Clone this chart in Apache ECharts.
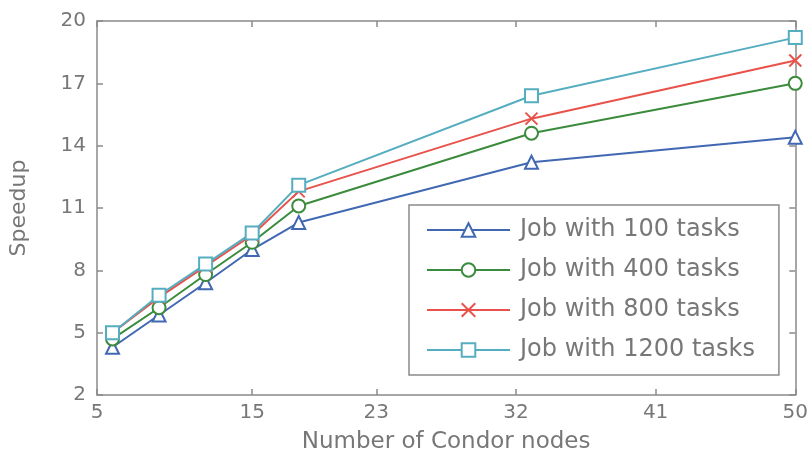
<!DOCTYPE html>
<html>
<head>
<meta charset="utf-8">
<script src="https://cdn.jsdelivr.net/npm/echarts@6/dist/echarts.min.js"></script>
<style>html,body{margin:0;padding:0;background:#fff}#c{width:811px;height:461px}</style>
</head>
<body>
<div id="c"></div>
<script>
const nodes = [6, 9, 12, 15, 18, 33, 50];
const xTicks = [5, 15, 23, 32, 41, 50];
const job100 = [4.3, 5.85, 7.4, 9.0, 10.3, 13.2, 14.4];
const job400 = [4.7, 6.2, 7.8, 9.35, 11.1, 14.6, 17.0];
const job800 = [5.0, 6.7, 8.2, 9.7, 11.8, 15.3, 18.1];
const job1200 = [5.0, 6.8, 8.3, 9.8, 12.1, 16.4, 19.2];
const names = ['Job with 100 tasks', 'Job with 400 tasks', 'Job with 800 tasks', 'Job with 1200 tasks'];
const colors = ['#4168b2', '#3b8b3d', '#e8524a', '#55adc0'];
const symbols = ['emptyTriangle', 'emptyCircle', 'path://M0,0L10,10M10,0L0,10', 'emptyRect'];
const allData = [job100, job400, job800, job1200];

const axisColor = '#8a8a8a';
const textColor = '#777';
const font = 'DejaVu Sans';

const chart = echarts.init(document.getElementById('c'), null, {renderer: 'canvas'});

const series = allData.map((vals, i) => ({
  name: names[i],
  type: 'line',
  data: nodes.map((x, j) => [x, vals[j]]),
  symbol: symbols[i],
  symbolSize: i === 2 ? 12 : 13,
  showAllSymbol: true,
  lineStyle: {color: colors[i], width: 2},
  itemStyle: {color: colors[i], borderColor: colors[i], borderWidth: 2},
  emphasis: {disabled: true},
  animation: false,
  z: 2 + i
}));

const tickCommon = {inside: true, length: 6, lineStyle: {color: axisColor, width: 1.5}};

chart.setOption({
  backgroundColor: '#fff',
  animation: false,
  grid: {left: 93, right: 14, top: 21, bottom: 66, containLabel: false},
  xAxis: [{
    type: 'value', min: 5, max: 50, position: 'bottom',
    name: 'Number of Condor nodes', nameLocation: 'middle', nameGap: 36,
    nameTextStyle: {fontFamily: font, fontSize: 23, color: textColor},
    axisLine: {show: true, lineStyle: {color: axisColor, width: 1.5}},
    axisTick: Object.assign({customValues: xTicks}, tickCommon),
    axisLabel: {customValues: xTicks, fontFamily: font, fontSize: 20, color: textColor, margin: 8},
    splitLine: {show: false}
  }, {
    type: 'value', min: 5, max: 50, position: 'top',
    axisLine: {show: true, lineStyle: {color: axisColor, width: 1.5}},
    axisTick: Object.assign({customValues: xTicks}, tickCommon),
    axisLabel: {show: false, customValues: xTicks},
    splitLine: {show: false}
  }],
  yAxis: [{
    type: 'value', min: 2, max: 20, interval: 3, position: 'left',
    name: 'Speedup', nameLocation: 'middle', nameGap: 67, nameRotate: 90,
    nameTextStyle: {fontFamily: font, fontSize: 22, color: textColor},
    axisLine: {show: true, lineStyle: {color: axisColor, width: 1.5}},
    axisTick: tickCommon,
    axisLabel: {fontFamily: font, fontSize: 20, color: textColor, margin: 11},
    splitLine: {show: false}
  }, {
    type: 'value', min: 2, max: 20, interval: 3, position: 'right',
    axisLine: {show: true, lineStyle: {color: axisColor, width: 1.5}},
    axisTick: tickCommon,
    axisLabel: {show: false},
    splitLine: {show: false}
  }],
  legend: {
    data: names,
    orient: 'vertical',
    left: 409, top: 205,
    padding: [12, 24, 12, 17],
    itemWidth: 83, itemHeight: 17, itemGap: 14,
    borderColor: '#8a8a8a', borderWidth: 1.5,
    backgroundColor: '#fff',
    textStyle: {fontFamily: font, fontSize: 24, color: textColor, lineHeight: 26, padding: [0, 0, 0, 5]},
    selectedMode: false
  },
  series: series
});
</script>
</body>
</html>
